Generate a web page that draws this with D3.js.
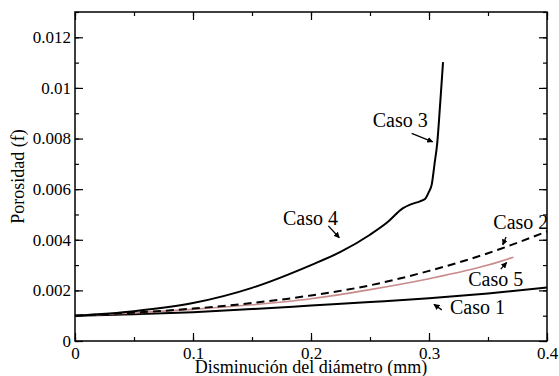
<!DOCTYPE html>
<html>
<head>
<meta charset="utf-8">
<script src="https://cdn.jsdelivr.net/npm/d3@7"></script>
<style>
  body { margin: 0; background: #fff; }
  svg text { font-family: "Liberation Serif", "DejaVu Serif", serif; fill: #000; }
</style>
</head>
<body>
<svg id="chart" width="559" height="376"></svg>
<script>
// axis ticks
const xTicks = [0, 0.1, 0.2, 0.3, 0.4];
const yTicks = [0, 0.002, 0.004, 0.006, 0.008, 0.01, 0.012];

// Caso 1 (solid, lower)
const caso1X = [0, 0.05, 0.1, 0.15, 0.2, 0.25, 0.3, 0.35, 0.4];
const caso1Y = [0.001, 0.00106, 0.00114, 0.00126, 0.0014, 0.00154, 0.00169, 0.00188, 0.00211];

// Caso 2 (dashed)
const caso2X = [0, 0.05, 0.1, 0.15, 0.2, 0.25, 0.3, 0.35, 0.4];
const caso2Y = [0.001, 0.00112, 0.00128, 0.0015, 0.0018, 0.0022, 0.00277, 0.00347, 0.00433];

// Caso 5 (pink)
const caso5X = [0, 0.05, 0.1, 0.15, 0.2, 0.25, 0.3, 0.35, 0.3715];
const caso5Y = [0.001, 0.00111, 0.00125, 0.00143, 0.00167, 0.00203, 0.00246, 0.003, 0.00331];

// Caso 4 / Caso 3 (same solid curve, upper)
const caso4X = [0, 0.05, 0.1, 0.15, 0.2, 0.225, 0.25, 0.265, 0.278, 0.284, 0.2924, 0.2966, 0.3, 0.3023, 0.3047, 0.307, 0.3095, 0.3119];
const caso4Y = [0.001, 0.00118, 0.0015, 0.0021, 0.003, 0.00352, 0.0042, 0.0047, 0.00525, 0.00539, 0.00552, 0.00561, 0.0059, 0.00618, 0.007, 0.00783, 0.0094, 0.01102];

// labels: text, text x, text y, arrow from (x,y) to (x,y)
const labelText = ['Caso 3', 'Caso 4', 'Caso 2', 'Caso 5', 'Caso 1'];
const labelX = [0.2523, 0.1763, 0.3545, 0.3333, 0.3178];
const labelY = [0.00875, 0.00487, 0.00469, 0.00244, 0.00133];
const arrowFrom = [[0.2853, 0.0082], [0.2147, 0.00455], [0.3653, 0.00411], [0.3608, 0.00284], [0.3108, 0.00123]];
const arrowTo = [[0.3031, 0.00787], [0.224, 0.00408], [0.3625, 0.0038], [0.3658, 0.0031], [0.3042, 0.00145]];

const margin = {top: 12, right: 12, bottom: 35, left: 75};
const width = 559 - margin.left - margin.right;
const height = 376 - margin.top - margin.bottom;
const serif = '"Liberation Serif", "DejaVu Serif", serif';

const svg = d3.select('#chart');

svg.append('defs').append('marker')
    .attr('id', 'head')
    .attr('viewBox', '0 0 10 10')
    .attr('refX', 9)
    .attr('refY', 5)
    .attr('markerWidth', 6)
    .attr('markerHeight', 6)
    .attr('markerUnits', 'userSpaceOnUse')
    .attr('orient', 'auto')
    .append('path')
    .attr('d', 'M0,0 L10,5 L0,10 z')
    .attr('fill', '#000');

const g = svg.append('g').attr('transform', `translate(${margin.left},${margin.top})`);

const x = d3.scaleLinear().domain([0, 0.4]).range([0, width]);
const y = d3.scaleLinear().domain([0, 0.013]).range([height, 0]);

const minorX = d3.range(0, 0.4001, 0.05);
const minorY = d3.range(0, 0.0131, 0.001);

const fmt = d => d === 0 ? '0' : String(+d.toFixed(3));

// bottom + top axes (ticks pointing inward)
g.append('g').attr('transform', `translate(0,${height})`)
    .call(d3.axisBottom(x).tickValues(minorX).tickSize(-4).tickFormat(''))
    .call(s => s.select('.domain').remove());
g.append('g').attr('transform', `translate(0,${height})`)
    .call(d3.axisBottom(x).tickValues(xTicks).tickSize(-8).tickFormat(fmt))
    .call(s => s.select('.domain').remove())
    .call(s => s.selectAll('text')
        .attr('font-family', serif).attr('font-size', 17)
        .attr('dy', null).attr('y', 18));
g.append('g')
    .call(d3.axisTop(x).tickValues(minorX).tickSize(-4).tickFormat(''))
    .call(s => s.select('.domain').remove());
g.append('g')
    .call(d3.axisTop(x).tickValues(xTicks).tickSize(-8).tickFormat(''))
    .call(s => s.select('.domain').remove());

// left + right axes
g.append('g')
    .call(d3.axisLeft(y).tickValues(minorY).tickSize(-4).tickFormat(''))
    .call(s => s.select('.domain').remove());
g.append('g')
    .call(d3.axisLeft(y).tickValues(yTicks).tickSize(-8).tickFormat(fmt))
    .call(s => s.select('.domain').remove())
    .call(s => s.selectAll('text')
        .attr('font-family', serif).attr('font-size', 17).attr('x', -4));
g.append('g').attr('transform', `translate(${width},0)`)
    .call(d3.axisRight(y).tickValues(minorY).tickSize(-4).tickFormat(''))
    .call(s => s.select('.domain').remove());
g.append('g').attr('transform', `translate(${width},0)`)
    .call(d3.axisRight(y).tickValues(yTicks).tickSize(-8).tickFormat(''))
    .call(s => s.select('.domain').remove());

g.selectAll('.tick line').attr('stroke', '#000').attr('stroke-width', 1.2);

// frame
g.append('rect')
    .attr('width', width)
    .attr('height', height)
    .attr('fill', 'none')
    .attr('stroke', '#000')
    .attr('stroke-width', 1.5);

// curves
const line = d3.line().x(d => x(d[0])).y(d => y(d[1])).curve(d3.curveMonotoneX);
const zip = (xs, ys) => xs.map((v, i) => [v, ys[i]]);

g.append('path').datum(zip(caso1X, caso1Y))
    .attr('d', line).attr('fill', 'none').attr('stroke', '#000').attr('stroke-width', 2);
g.append('path').datum(zip(caso5X, caso5Y))
    .attr('d', line).attr('fill', 'none').attr('stroke', '#c88a8a').attr('stroke-width', 1.6);
g.append('path').datum(zip(caso2X, caso2Y))
    .attr('d', line).attr('fill', 'none').attr('stroke', '#000').attr('stroke-width', 2)
    .attr('stroke-dasharray', '8,5');
g.append('path').datum(zip(caso4X, caso4Y))
    .attr('d', line).attr('fill', 'none').attr('stroke', '#000').attr('stroke-width', 2);

// annotations
labelText.forEach((t, i) => {
    g.append('text')
        .attr('x', x(labelX[i]))
        .attr('y', y(labelY[i]))
        .attr('dy', '0.35em')
        .attr('font-size', 20)
        .text(t);
    g.append('line')
        .attr('x1', x(arrowFrom[i][0]))
        .attr('y1', y(arrowFrom[i][1]))
        .attr('x2', x(arrowTo[i][0]))
        .attr('y2', y(arrowTo[i][1]))
        .attr('stroke', '#000')
        .attr('stroke-width', 1.3)
        .attr('marker-end', 'url(#head)');
});

// axis titles
svg.append('text')
    .attr('x', margin.left + width / 2)
    .attr('y', 373)
    .attr('text-anchor', 'middle')
    .attr('font-size', 18)
    .text('Disminución del diámetro (mm)');

svg.append('text')
    .attr('transform', `translate(24,${margin.top + height / 2}) rotate(-90)`)
    .attr('text-anchor', 'middle')
    .attr('font-size', 18)
    .text('Porosidad (f)');
</script>
</body>
</html>
